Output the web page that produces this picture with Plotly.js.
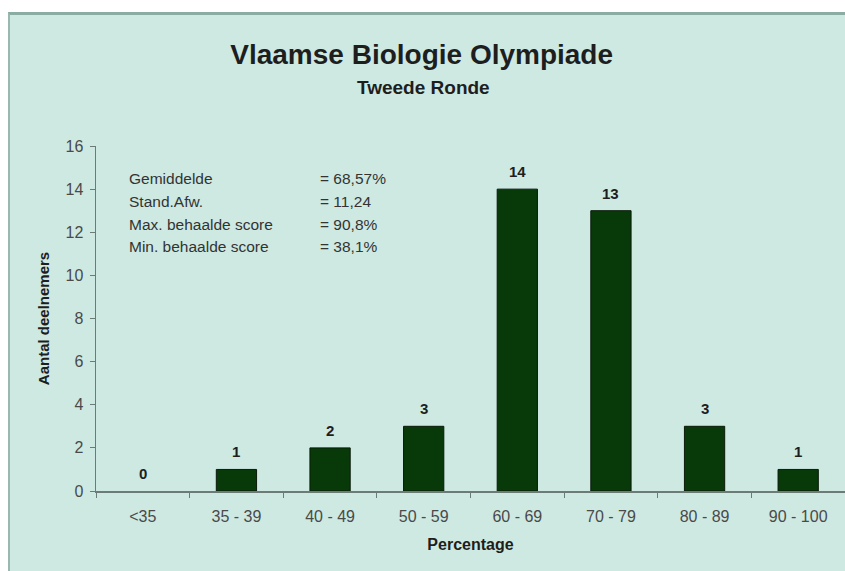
<!DOCTYPE html>
<html>
<head>
<meta charset="utf-8">
<script src="https://cdn.plot.ly/plotly-3.0.1.min.js"></script>
<style>
html,body{margin:0;padding:0;background:#ffffff;overflow:hidden;width:845px;height:571px;}
#frame{position:absolute;left:8px;top:12px;width:835px;height:556px;border-left:2px solid #9ab8b0;border-top:3px solid #8aaca3;background:#cde9e2;}
#chart{width:835px;height:556px;}
</style>
</head>
<body>
<div id="frame"><div id="chart"></div></div>
<script>
// Data
const categories = ['<35', '35 - 39', '40 - 49', '50 - 59', '60 - 69', '70 - 79', '80 - 89', '90 - 100'];
const counts = [0, 1, 2, 3, 14, 13, 3, 1];
const statLabels = ['Gemiddelde', 'Stand.Afw.', 'Max. behaalde score', 'Min. behaalde score'];
const statValues = ['= 68,57%', '= 11,24', '= 90,8%', '= 38,1%'];
const yTicks = [0, 2, 4, 6, 8, 10, 12, 14, 16];

const FONT = 'Arial, "Liberation Sans", sans-serif';
const BG = '#cde9e2';

const trace = {
  type: 'bar',
  x: categories,
  y: counts,
  marker: {color: '#073a08', line: {color: '#0a1a0a', width: counts.map(v => v > 0 ? 1 : 0)}},
  hoverinfo: 'skip'
};

const annotations = [];
// value labels above bars
categories.forEach((c, i) => {
  annotations.push({
    x: c, y: counts[i], xref: 'x', yref: 'y',
    text: String(counts[i]), showarrow: false,
    yanchor: 'bottom', yshift: 7,
    font: {family: FONT, size: 15, color: '#1e1e1e', weight: 'bold'}
  });
});
// statistics block
statLabels.forEach((s, i) => {
  const yv = 14.5 - i * 1.06;
  annotations.push({
    x: 0.041, y: yv, xref: 'paper', yref: 'y', xanchor: 'left', yanchor: 'middle',
    text: s, showarrow: false,
    font: {family: FONT, size: 15.5, color: '#333333'}
  });
  annotations.push({
    x: 0.297, y: yv, xref: 'paper', yref: 'y', xanchor: 'left', yanchor: 'middle',
    text: statValues[i], showarrow: false,
    font: {family: FONT, size: 15.5, color: '#333333'}
  });
});
// subtitle
annotations.push({
  x: 0.437, y: 1.169, xref: 'paper', yref: 'paper', xanchor: 'center', yanchor: 'middle',
  text: 'Tweede Ronde', showarrow: false,
  font: {family: FONT, size: 19, color: '#1e1e1e', weight: 'bold'}
});

const layout = {
  width: 835, height: 556,
  margin: {l: 86, r: 0, t: 131, b: 80, pad: 0},
  paper_bgcolor: BG, plot_bgcolor: BG,
  font: {family: FONT, color: '#333333'},
  showlegend: false,
  bargap: 0.57,
  title: {
    text: 'Vlaamse Biologie Olympiade',
    x: 0.493, xref: 'container', xanchor: 'center',
    y: 0.93, yref: 'container', yanchor: 'middle',
    font: {family: FONT, size: 28, color: '#1e1e1e', weight: 'bold'}
  },
  xaxis: {
    type: 'category',
    tickson: 'boundaries',
    ticks: 'outside', ticklen: 5, tickcolor: '#6b7c77', tickwidth: 1,
    showline: true, linecolor: '#6b7c77', linewidth: 1.5,
    showgrid: false, zeroline: false,
    ticklabelstandoff: 10,
    tickfont: {family: FONT, size: 16, color: '#4a4a4a'},
    title: {text: 'Percentage', font: {family: FONT, size: 16, color: '#1e1e1e', weight: 'bold'}},
    fixedrange: true
  },
  yaxis: {
    range: [0, 16],
    tickvals: yTicks,
    ticks: 'outside', ticklen: 5, tickcolor: '#6b7c77', tickwidth: 1,
    showline: true, linecolor: '#6b7c77', linewidth: 1.5,
    showgrid: false, zeroline: false,
    ticklabelstandoff: 3,
    tickfont: {family: FONT, size: 16, color: '#4a4a4a'},
    title: {text: 'Aantal deelnemers', font: {family: FONT, size: 15, color: '#1e1e1e', weight: 'bold'}, standoff: 12},
    fixedrange: true
  },
  annotations: annotations
};

Plotly.newPlot('chart', [trace], layout, {displayModeBar: false, staticPlot: true});
</script>
</body>
</html>
